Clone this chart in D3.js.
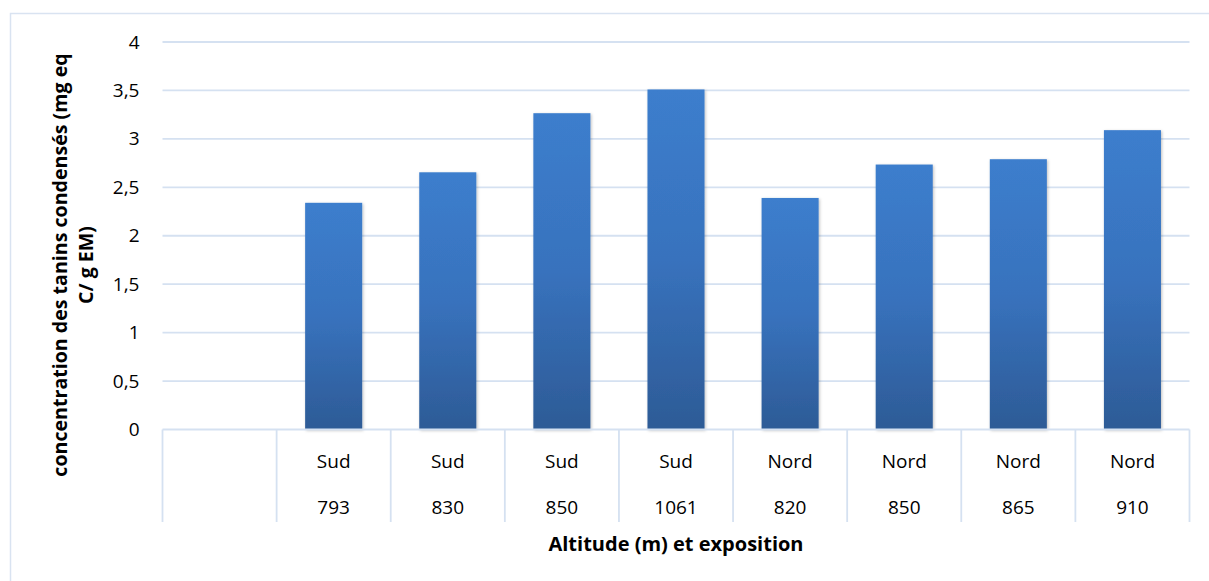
<!DOCTYPE html>
<html><head><meta charset="utf-8">
<script src="https://cdn.jsdelivr.net/npm/d3@7/dist/d3.min.js"></script>
<style>
html,body{margin:0;padding:0;background:#fff;}
svg{display:block;}
text{font-family:"Open Sans",sans-serif;fill:#000;}
</style></head>
<body>
<svg id="chart" width="1209" height="581"></svg>
<script>
const expositions = ["", "Sud", "Sud", "Sud", "Sud", "Nord", "Nord", "Nord", "Nord"];
const altitudes = ["", "793", "830", "850", "1061", "820", "850", "865", "910"];
const values = [null, 2.34, 2.655, 3.265, 3.51, 2.39, 2.735, 2.79, 3.09];
const yTicks = [0, 0.5, 1, 1.5, 2, 2.5, 3, 3.5, 4];
const yTitleLines = ["concentration des tanins condensés (mg eq", "C/ g EM)"];
const xTitle = "Altitude (m) et exposition";

const svg = d3.select("#chart");
const W = 1209, H = 581;
const m = {left: 162.5, right: 1189.5, top: 42, bottom: 429.5};
const gridColor = "#d5e1f1";

// outer border
svg.append("rect").attr("x", 10.5).attr("y", 13.5).attr("width", W + 10).attr("height", H + 10)
  .attr("fill", "none").attr("stroke", "#d9e3f1").attr("stroke-width", 1.5);

const idx = values.map((d, i) => i);
const x = d3.scaleBand().domain(idx).range([m.left, m.right]).paddingInner(0.5).paddingOuter(0.25);
const step = x.step();
const y = d3.scaleLinear().domain([0, 4]).range([m.bottom, m.top]);

const defs = svg.append("defs");
const grad = defs.append("linearGradient").attr("id", "barGrad").attr("x1", 0).attr("y1", 0).attr("x2", 0).attr("y2", 1);
grad.append("stop").attr("offset", "0%").attr("stop-color", "#3c7ecd");
grad.append("stop").attr("offset", "50%").attr("stop-color", "#3872bd");
grad.append("stop").attr("offset", "100%").attr("stop-color", "#2d5b96");
const f = defs.append("filter").attr("id", "shadow").attr("x", "-20%").attr("y", "-5%").attr("width", "140%").attr("height", "110%");
f.append("feDropShadow").attr("dx", 1).attr("dy", 1).attr("stdDeviation", 1.8).attr("flood-color", "#000").attr("flood-opacity", 0.25);

// gridlines
svg.append("g").selectAll("line").data(yTicks.filter(t => t > 0)).join("line")
  .attr("x1", m.left).attr("x2", m.right)
  .attr("y1", d => y(d)).attr("y2", d => y(d))
  .attr("stroke", gridColor).attr("stroke-width", 1.8);

// y axis labels
const yAxis = d3.axisLeft(y).tickValues(yTicks).tickSize(0).tickPadding(0)
  .tickFormat(d => d3.format("~g")(d).replace(".", ","));
const ya = svg.append("g").attr("transform", `translate(${m.left - 23},0)`).call(yAxis);
ya.select(".domain").remove();
ya.selectAll("text").style("font-family", '"Open Sans",sans-serif').style("font-size", "19px").attr("fill", "#000");

// bars
svg.append("g").selectAll("rect").data(idx.filter(i => values[i] != null)).join("rect")
  .attr("x", i => x(i)).attr("width", x.bandwidth())
  .attr("y", i => y(values[i])).attr("height", i => y(0) - y(values[i]))
  .attr("fill", "url(#barGrad)").attr("filter", "url(#shadow)");

// category axis (table style)
const catBottom = 522;
svg.append("line").attr("x1", m.left).attr("x2", m.right).attr("y1", m.bottom).attr("y2", m.bottom)
  .attr("stroke", gridColor).attr("stroke-width", 2);
const bounds = idx.map(i => x(i) - x.paddingInner() * step / 2).concat([m.right]);
svg.append("g").selectAll("line").data(bounds).join("line")
  .attr("x1", d => d).attr("x2", d => d).attr("y1", m.bottom).attr("y2", catBottom)
  .attr("stroke", gridColor).attr("stroke-width", 1.8);

const cat = svg.append("g").style("font-size", "19px");
cat.selectAll("text.exp").data(idx).join("text").attr("class", "exp")
  .attr("x", i => x(i) + x.bandwidth() / 2).attr("y", 468).attr("text-anchor", "middle").text(i => expositions[i]);
cat.selectAll("text.alt").data(idx).join("text").attr("class", "alt")
  .attr("x", i => x(i) + x.bandwidth() / 2).attr("y", 514).attr("text-anchor", "middle").text(i => altitudes[i]);

// titles
svg.append("text").attr("x", 676).attr("y", 550.5).attr("text-anchor", "middle")
  .style("font-size", "20px").style("font-weight", "bold").text(xTitle);
const yt = svg.append("text").attr("transform", "translate(66.5,265) rotate(-90)").attr("text-anchor", "middle")
  .style("font-size", "19.6px").style("font-weight", "bold");
yTitleLines.forEach((t, i) => yt.append("tspan").attr("x", 0).attr("dy", i === 0 ? 0 : 26).text(t));
</script>
</body></html>
